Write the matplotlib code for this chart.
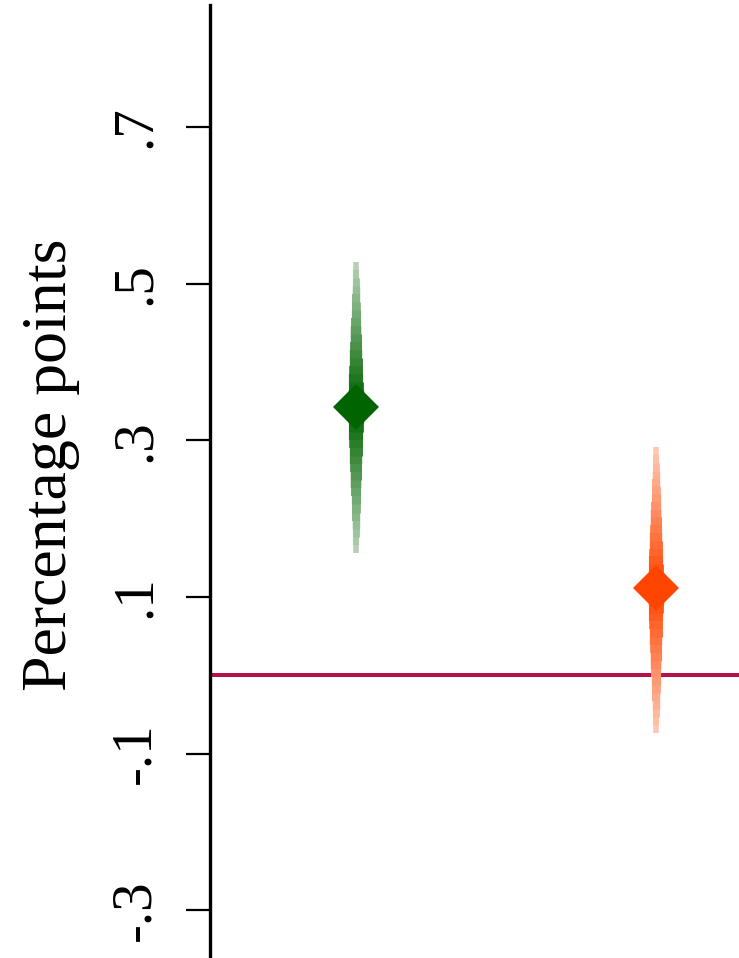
import matplotlib.pyplot as plt
from matplotlib.colors import to_rgb
import numpy as np

# Point estimates with the outer interval bounds for the two groups
positions = [1, 2]
estimates = [0.343, 0.111]
ci_lower = [0.156, -0.074]
ci_upper = [0.527, 0.291]
colours = ['#006400', '#FF4500']

# Tick values and their labels
yticks = [-0.3, -0.1, 0.1, 0.3, 0.5, 0.7]
ytick_labels = ['-.3', '-.1', '.1', '.3', '.5', '.7']

# Stacked bars: each layer covers a shrinking share of the interval,
# gets thicker and more saturated towards the estimate
shares = np.linspace(1.0, 0.06, 18)
widths = np.linspace(4.0, 11.5, len(shares))
strengths = np.linspace(0.3, 1.0, len(shares))


def tint(colour, strength):
  rgb = np.array(to_rgb(colour))
  return tuple(1 - strength * (1 - rgb))


plt.rcParams['font.family'] = ['Liberation Serif', 'DejaVu Serif']

fig = plt.figure(figsize=(7.39, 9.58), dpi=100)
ax = fig.add_axes([0.284, 0.0, 0.716, 0.995])

# Reference line at zero
ax.axhline(0, color='#B5124B', linewidth=2.9, zorder=1)

for pos, est, lo, hi, col in zip(positions, estimates, ci_lower, ci_upper, colours):
  for sh, lw, st in zip(shares, widths, strengths):
    ax.plot([pos, pos], [est - sh * (est - lo), est + sh * (hi - est)], color=tint(col, st),
            linewidth=lw, solid_capstyle='butt', zorder=2)
  ax.plot(pos, est, marker='D', markersize=23, color=col, markeredgewidth=0, zorder=3)

ax.set_xlim(0.513, 2.277)
ax.set_ylim(-0.361, 0.856)

ax.set_yticks(yticks)
ax.set_yticklabels(ytick_labels, rotation=90, va='center', fontsize=41)
ax.tick_params(axis='y', length=17, width=1.6, pad=18)
ax.set_xticks([])
ax.set_ylabel('Percentage points', fontsize=46)
ax.yaxis.set_label_coords(-0.245, 0.517)

for side in ['top', 'right', 'bottom']:
  ax.spines[side].set_visible(False)
ax.spines['left'].set_linewidth(2.4)

fig.savefig('out.png', dpi=100)
